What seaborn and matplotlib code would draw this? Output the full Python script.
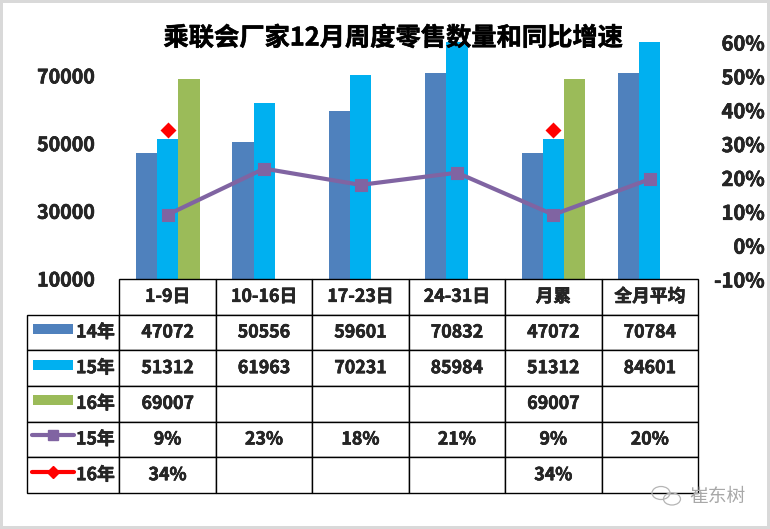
import numpy as np
import pandas as pd
import seaborn as sns
import matplotlib.pyplot as plt
import matplotlib.patheffects as pe
from matplotlib.lines import Line2D
from matplotlib.patches import Rectangle, Ellipse

# --- Data ---
periods = ["1-9日", "10-16日", "17-23日", "24-31日", "月累", "全月平均"]
sales_14 = [47072, 50556, 59601, 70832, 47072, 70784]
sales_15 = [51312, 61963, 70231, 85984, 51312, 84601]
sales_16 = [69007, None, None, None, 69007, None]
growth_15 = [9.0, 22.6, 17.8, 21.4, 9.0, 19.5]
growth_16 = [34.0, None, None, None, 34.0, None]
growth_15_labels = ["9%", "23%", "18%", "21%", "9%", "20%"]
growth_16_labels = ["34%", "", "", "", "34%", ""]
left_ticks = [10000, 30000, 50000, 70000]
right_ticks = [-10, 0, 10, 20, 30, 40, 50, 60]
# ---------------------

C14, C15, C16, CPURPLE, CRED = "#4F81BD", "#00B0F0", "#9BBB59", "#8064A2", "#FF0000"
W, H = 770, 529
FONT = ["Noto Sans CJK SC", "DejaVu Sans"]
HEAVY = [pe.withStroke(linewidth=0.4, foreground="black")]


def px(x, y):
    # picture pixels to figure fraction
    return x / W, 1 - y / H


def txt(v):
    return "" if v is None else str(v)


sns.set_theme(style="white")
plt.rcParams["font.family"] = FONT
plt.rcParams["font.weight"] = "bold"

fig = plt.figure(figsize=(W / 100, H / 100), dpi=100, facecolor="white", edgecolor="#D9D9D9", linewidth=3)
ax = fig.add_axes([119.5 / W, 1 - 279 / H, 578.5 / W, 237 / H])

bars = pd.DataFrame({"period": periods, "14年": sales_14, "15年": sales_15, "16年": sales_16})
bars = bars.melt(id_vars="period", var_name="year", value_name="sales")
bars["sales"] = pd.to_numeric(bars["sales"])
sns.barplot(data=bars, x="period", y="sales", hue="year", order=periods, width=0.66, gap=0, saturation=1,
            palette=[C14, C15, C16], legend=False, errorbar=None, linewidth=0, ax=ax)
ax.set_ylim(10000, 80000)
ax.set_yticks(left_ticks)
ax.set_xlabel("")
ax.set_ylabel("")
ax.set_xticks([])
ax.tick_params(axis="y", length=0, pad=17.5, labelsize=14.1)
sns.despine(ax=ax, left=True, bottom=True)

ax2 = ax.twinx()
sns.pointplot(x=periods, y=growth_15, order=periods, color=CPURPLE, marker="s", markersize=7.5, linewidth=3,
              errorbar=None, ax=ax2)
sns.pointplot(x=periods, y=pd.to_numeric(pd.Series(growth_16)), order=periods, color=CRED, marker="D", markersize=6.5,
              linestyle="none", errorbar=None, ax=ax2)
ax2.set_xlim(-0.5, 5.5)
ax2.set_ylim(-10, 60)
ax2.set_yticks(right_ticks)
ax2.set_yticklabels([f"{v}%" for v in right_ticks], ha="right")
ax2.set_xticks([])
ax2.set_xlabel("")
ax2.set_ylabel("")
ax2.tick_params(axis="y", length=0, pad=48, labelsize=14.5)
sns.despine(ax=ax2, left=True, bottom=True, right=True)

for label in ax.get_yticklabels() + ax2.get_yticklabels():
    label.set_path_effects(HEAVY)

# data table under the plot
rows = [
    [""] + periods,
    ["14年"] + [txt(v) for v in sales_14],
    ["15年"] + [txt(v) for v in sales_15],
    ["16年"] + [txt(v) for v in sales_16],
    ["15年"] + growth_15_labels,
    ["16年"] + growth_16_labels,
]
tw = 671.0
table = ax2.table(cellText=rows, cellLoc="center", colWidths=[92.5 / tw] + [96.5 / tw] * 6,
                  bbox=[-92.5 / 578.5, -214 / 237, tw / 578.5, 214 / 237])
table.auto_set_font_size(False)
for (r, c), cell in table.get_celld().items():
    cell.set_linewidth(1.0)
    cell.set_edgecolor("black")
    cell.get_text().set_fontsize(12.8)
    cell.get_text().set_fontweight("bold")
    cell.get_text().set_path_effects(HEAVY)
    if c == 0:
        cell.PAD = 0.05
        cell.get_text().set_ha("right")
cell = table[(0, 0)]
cell.visible_edges = "open"

# legend keys in the first table column
for y, color in [(329, C14), (365, C15), (400, C16)]:
    x0, y0 = px(33, y + 5)
    fig.add_artist(Rectangle((x0, y0), 40 / W, 10 / H, transform=fig.transFigure, color=color, lw=0))
for y, color, marker, ms in [(435, CPURPLE, "s", 7.5), (472, CRED, "D", 6)]:
    x0, yy = px(32, y)
    x1, _ = px(74, y)
    fig.add_artist(Line2D([x0, x1], [yy, yy], transform=fig.transFigure, color=color, lw=3))
    fig.add_artist(Line2D([(x0 + x1) / 2], [yy], transform=fig.transFigure, color=color, marker=marker, ms=ms, lw=0))

# title
tx, ty = px(393, 38)
fig.text(tx, ty, "乘联会厂家12月周度零售数量和同比增速", ha="center", va="center", fontsize=18.2, fontweight="bold",
         color="black", zorder=5, path_effects=HEAVY)

# watermark
for cx, cy, ew, eh in [(661, 493, 18, 13), (672, 499, 17, 12)]:
    x0, y0 = px(cx, cy)
    fig.add_artist(Ellipse((x0, y0), ew / W, eh / H, transform=fig.transFigure, fill=False, ec="#B5B5B5", lw=0.9))
mx, my = px(718, 496)
fig.text(mx, my, "崔东树", ha="center", va="center", fontsize=13.5, fontweight="normal", color="#A8A8A8", zorder=5)

fig.savefig("out.png", dpi=100, facecolor=fig.get_facecolor(), edgecolor=fig.get_edgecolor())
